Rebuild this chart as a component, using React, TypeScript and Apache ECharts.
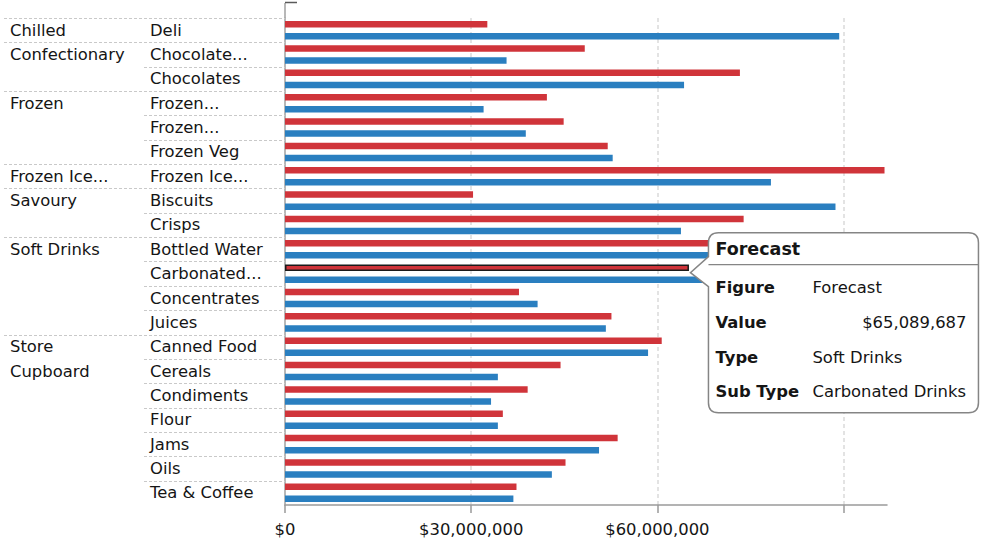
import React, { useEffect, useRef } from "react";
import * as echarts from "echarts";

// ---- data ----
const subTypes = [
  "Deli", "Chocolate...", "Chocolates", "Frozen...", "Frozen...", "Frozen Veg",
  "Frozen Ice...", "Biscuits", "Crisps", "Bottled Water", "Carbonated...",
  "Concentrates", "Juices", "Canned Food", "Cereals", "Condiments", "Flour",
  "Jams", "Oils", "Tea & Coffee",
];
const types = ["Chilled", "Confectionary", "Frozen", "Frozen Ice...", "Savoury", "Soft Drinks", "Store\nCupboard"];
const typeCounts = [1, 2, 3, 1, 2, 4, 7];

const forecast = [
  32600000, 48300000, 73300000, 42200000, 44900000, 52000000, 96600000,
  30300000, 73900000, 79000000, 65089687, 37700000, 52600000, 60700000,
  44400000, 39100000, 35100000, 53600000, 45200000, 37300000,
];
const actual = [
  89300000, 35700000, 64300000, 32000000, 38800000, 52800000, 78300000,
  88700000, 63800000, 74000000, 71000000, 40700000, 51700000, 58500000,
  34300000, 33200000, 34300000, 50600000, 43000000, 36800000,
];
const seriesNames = ["Forecast", "Actual"];
const xTickValues = [0, 30000000, 60000000, 90000000];
const xLabelValues = [0, 30000000, 60000000];
const xMax = 97000000;

// tooltip content (the hovered item)
const tipIndex = 10;
const tipSubTypeFull = "Carbonated Drinks";
const tipTypeName = "Soft Drinks";

// ---- derived ----
const fmt = (v: number) => "$" + Math.round(v).toLocaleString("en-US");
const rowTypeLabels: string[] = [];
const groupStart: boolean[] = [];
types.forEach((t, gi) => {
  const lines = t.split("\n");
  for (let k = 0; k < typeCounts[gi]; k++) {
    rowTypeLabels.push(lines[k] || "");
    groupStart.push(k === 0);
  }
});

const FONT = '"DejaVu Sans", Verdana, sans-serif';
const RED = "#D0343A";
const BLUE = "#2A7FC0";
const TXT = "#151515";

// tooltip callout shape, tip at (0,0)
const bx = 18, by = -40, bw = 270, bh = 180, r = 10;
const tipD =
  `M ${bx + r} ${by} L ${bx + bw - r} ${by} Q ${bx + bw} ${by} ${bx + bw} ${by + r} ` +
  `L ${bx + bw} ${by + bh - r} Q ${bx + bw} ${by + bh} ${bx + bw - r} ${by + bh} ` +
  `L ${bx + r} ${by + bh} Q ${bx} ${by + bh} ${bx} ${by + bh - r} ` +
  `L ${bx} 14 L 0 0 L ${bx} -16 L ${bx} ${by + r} Q ${bx} ${by} ${bx + r} ${by} Z`;
echarts.graphic.registerShape("tipShape", echarts.graphic.extendPath(tipD, {}));

export default function App() {
  const ref = useRef<HTMLDivElement>(null);
  useEffect(() => {
    if (!ref.current) return;
    const chart = echarts.init(ref.current, undefined, { renderer: "svg" });
    const option: any = {
      animation: false,
      grid: { left: 285, top: 18, right: 94, bottom: 39 },
      xAxis: {
        type: "value",
        min: 0,
        max: xMax,
        interval: 30000000,
        axisLine: { show: true, lineStyle: { color: "#9a9a9a", width: 1.5 } },
        axisTick: { show: true, length: 8, customValues: xTickValues, lineStyle: { color: "#9a9a9a", width: 1.5 } },
        axisLabel: {
          customValues: xLabelValues,
          formatter: (v: number) => fmt(v),
          margin: 16,
          color: TXT,
          fontSize: 16.4,
          fontFamily: FONT,
        },
        splitLine: { show: true, showMinLine: false, lineStyle: { color: "#dadada", type: [4, 3], width: 1.5 } },
      },
      yAxis: [
        {
          type: "category",
          data: subTypes,
          inverse: true,
          position: "left",
          axisLine: { show: true, lineStyle: { color: "#a0a0a0", width: 1.5 } },
          axisTick: { show: false },
          splitLine: { show: false },
          axisLabel: { interval: 0, align: "left", margin: 135, color: TXT, fontSize: 16.4, fontFamily: FONT, padding: [2, 0, 0, 0] },
        },
        {
          type: "category",
          data: rowTypeLabels,
          inverse: true,
          position: "left",
          axisLine: { show: false },
          axisTick: { show: false },
          splitLine: { show: false },
          axisLabel: { interval: 0, align: "left", margin: 275, color: TXT, fontSize: 16.4, fontFamily: FONT, padding: [2, 0, 0, 0] },
        },
      ],
      series: [
        {
          type: "bar",
          name: seriesNames[0],
          yAxisIndex: 0,
          barWidth: 6.5,
          barGap: "85%",
          itemStyle: { color: RED },
          data: forecast.map((v, i) =>
            i === tipIndex ? { value: v, itemStyle: { borderColor: "#1a1a1a", borderWidth: 1.5 } } : v
          ),
        },
        {
          type: "bar",
          name: seriesNames[1],
          yAxisIndex: 0,
          barWidth: 6.5,
          itemStyle: { color: BLUE },
          data: actual,
        },
        {
          type: "custom",
          yAxisIndex: 0,
          silent: true,
          clip: false,
          z: 1,
          encode: { x: 0, y: 1 },
          data: subTypes.map((_, i) => [0, i]),
          renderItem: (params: any, api: any) => {
            const idx = api.value(1);
            const p = api.coord([0, idx]);
            const h = api.size([0, 1])[1];
            const y = Math.round(p[1] - h / 2) + 0.5;
            const x0 = groupStart[idx] ? 4 : 144;
            return {
              type: "line",
              shape: { x1: x0, y1: y, x2: p[0], y2: y },
              style: { stroke: "#c9c9c9", lineWidth: 1, lineDash: [3, 2] },
            };
          },
        },
      ],
    };
    chart.setOption(option);

    const pt = chart.convertToPixel({ xAxisIndex: 0, yAxisIndex: 0 }, [forecast[tipIndex], tipIndex]) as number[];
    const tx = pt[0] + 1.5;
    const ty = pt[1] - 1;
    const rows = [
      ["Figure", seriesNames[0]],
      ["Value", fmt(forecast[tipIndex])],
      ["Type", tipTypeName],
      ["Sub Type", tipSubTypeFull],
    ];
    const Z = 100;
    const children: any[] = [
      { type: "tipShape", z: Z, shape: {}, style: { fill: "#ffffff", stroke: "#858585", lineWidth: 1.5 } },
      { type: "line", z: Z + 1, shape: { x1: bx, y1: by + 32, x2: bx + bw, y2: by + 32 }, style: { stroke: "#858585", lineWidth: 1.2 } },
      {
        type: "text", z: Z + 1, x: 25, y: -23.5,
        style: { text: seriesNames[0], fill: TXT, font: `bold 17.5px ${FONT}`, align: "left", verticalAlign: "middle" },
      },
    ];
    rows.forEach((row, i) => {
      const yy = 15 + i * 34.7;
      children.push({
        type: "text", z: Z + 1, x: 25, y: yy,
        style: { text: row[0], fill: TXT, font: `bold 16.4px ${FONT}`, align: "left", verticalAlign: "middle" },
      });
      const isNum = row[0] === "Value";
      children.push({
        type: "text", z: Z + 1, x: isNum ? 276 : 122, y: yy,
        style: { text: row[1], fill: TXT, font: `16.4px ${FONT}`, align: isNum ? "right" : "left", verticalAlign: "middle" },
      });
    });
    chart.setOption({
      graphic: [
        { type: "line", z: Z, shape: { x1: 285, y1: 3, x2: 285, y2: 18 }, style: { stroke: "#a0a0a0", lineWidth: 1.5 } },
        { type: "line", z: Z, shape: { x1: 285, y1: 2.5, x2: 297, y2: 2.5 }, style: { stroke: "#5a5a5a", lineWidth: 1.5 } },
        { type: "group", z: Z, x: tx, y: ty, children },
      ],
    });
    return () => chart.dispose();
  }, []);
  return <div ref={ref} style={{ position: "absolute", left: 0, top: 0, width: 981, height: 544 }} />;
}
